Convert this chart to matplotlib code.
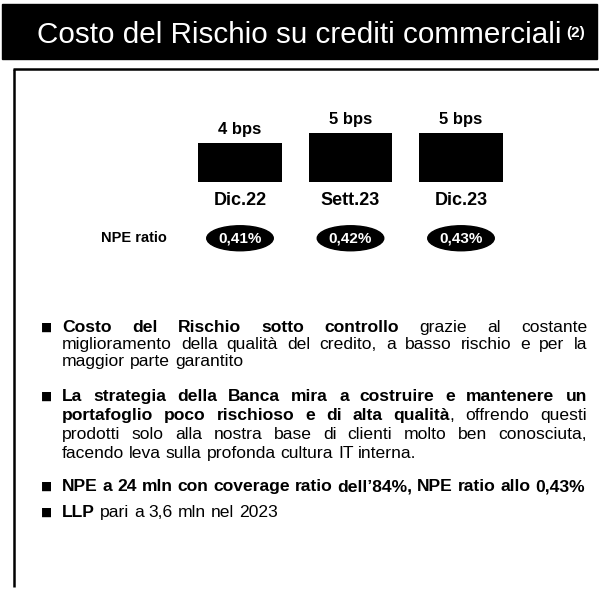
import matplotlib
matplotlib.use("Agg")
from matplotlib import pyplot as plt
from matplotlib.patches import Rectangle

# chart data
categories = ["Dic.22", "Sett.23", "Dic.23"]
costo_rischio_bps = [4, 5, 5]
npe_ratio = [0.41, 0.42, 0.43]

title = "Costo del Rischio su crediti commerciali"
title_note = "(2)"

# bullet paragraphs, one string per printed line, **...** = bold
bullets = [
    ["**Costo del Rischio sotto controllo** grazie al costante",
     "miglioramento della qualità del credito, a basso rischio e per la",
     "maggior parte garantito"],
    ["**La strategia della Banca mira a costruire e mantenere un**",
     "**portafoglio poco rischioso e di alta qualità**, offrendo questi",
     "prodotti solo alla nostra base di clienti molto ben conosciuta,",
     "facendo leva sulla profonda cultura IT interna."],
    ["**NPE a 24 mln con coverage ratio dell\u201984%, NPE ratio allo 0,43%**"],
    ["**LLP** pari a 3,6 mln nel 2023"],
]
bullet_line_y = [[327, 344, 361], [396, 415, 434, 453], [486], [512]]

W, H = 599, 590
plt.rcParams['font.family'] = ['Liberation Sans', 'DejaVu Sans']

fig = plt.figure(figsize=(W / 100, H / 100), dpi=100)
bg = fig.add_axes([0, 0, 1, 1])
bg.set_xlim(0, W)
bg.set_ylim(H, 0)
bg.axis('off')
renderer = fig.canvas.get_renderer()

# header band
bg.add_patch(Rectangle((2, 4), 595, 55, color='black'))
t = bg.text(37, 43, title, color='white', fontsize=17.6, va='baseline', ha='left')
tw = t.get_window_extent(renderer).width
t.set_fontsize(17.6 * 521 / tw)
bg.text(566, 37, title_note, color='white', fontsize=11, fontweight='bold',
        va='baseline', ha='left')

# frame of the content box
bg.plot([13, 599], [69, 69], color='black', lw=1.8, solid_capstyle='butt')
bg.plot([14, 14], [69, 587], color='black', lw=1.8, solid_capstyle='butt')

# bar chart
px_unit = 110.5
left = 240 - 0.5 * px_unit
right = 461 + 0.5 * px_unit
bottom, top = 182, 182 - 6 * 9.8
ax = fig.add_axes([left / W, 1 - bottom / H, (right - left) / W, (bottom - top) / H])
xs = range(len(categories))
ax.bar(xs, costo_rischio_bps, width=0.76, color='black')
ax.set_xlim(-0.5, 2.5)
ax.set_ylim(0, 6)
for s in ax.spines.values():
    s.set_visible(False)
ax.set_yticks([])
ax.set_xticks(list(xs))
ax.set_xticklabels(categories, fontsize=13, fontweight='bold')
ax.tick_params(axis='x', length=0, pad=7)
ax.patch.set_alpha(0)

for i, v in enumerate(costo_rischio_bps):
    ax.annotate(f"{v} bps", (i, v), xytext=(0, 4), textcoords='offset points',
                ha='center', va='bottom', fontsize=12, fontweight='bold')

for i, r in enumerate(npe_ratio):
    ax.annotate(f"{r:.2f}%".replace('.', ','), (i, 0), xytext=(0, -40.5),
                textcoords='offset points', ha='center', va='center',
                fontsize=11, fontweight='bold', color='white', annotation_clip=False,
                bbox=dict(boxstyle='ellipse,pad=0.12', fc='black', ec='black'))

bg.text(101, 238, "NPE ratio", fontsize=10.5, fontweight='bold', va='center', ha='left')


def parse_words(line):
    words, cur, buf, bold = [], [], "", False
    i = 0
    while i < len(line):
        if line.startswith("**", i):
            if buf:
                cur.append((buf, bold))
                buf = ""
            bold = not bold
            i += 2
            continue
        c = line[i]
        if c == " ":
            if buf:
                cur.append((buf, bold))
                buf = ""
            if cur:
                words.append(cur)
                cur = []
        else:
            buf += c
        i += 1
    if buf:
        cur.append((buf, bold))
    if cur:
        words.append(cur)
    return words


fs = 12.6


def run_width(txt, bold):
    tt = bg.text(0, 0, txt, fontsize=fs, fontweight='bold' if bold else 'normal')
    w = tt.get_window_extent(renderer).width
    tt.remove()
    return w


x_left, x_right = 62, 587
space = 0.278 * fs * 100 / 72
for para, ys in zip(bullets, bullet_line_y):
    bg.text(41, ys[0] + 4, "\u25a0", fontsize=8.5, family='DejaVu Sans', va='baseline', ha='left')
    for k, (line, y) in enumerate(zip(para, ys)):
        words = parse_words(line)
        widths = [[run_width(txt, b) for txt, b in w] for w in words]
        total = sum(sum(w) for w in widths)
        last = k == len(para) - 1
        gap = space if last or len(words) < 2 else (x_right - x_left - total) / (len(words) - 1)
        x = x_left
        for w, ws in zip(words, widths):
            for (txt, b), rw in zip(w, ws):
                bg.text(x, y + 5, txt, fontsize=fs, fontweight='bold' if b else 'normal',
                        va='baseline', ha='left')
                x += rw
            x += gap

fig.savefig("out.png", dpi=100)
